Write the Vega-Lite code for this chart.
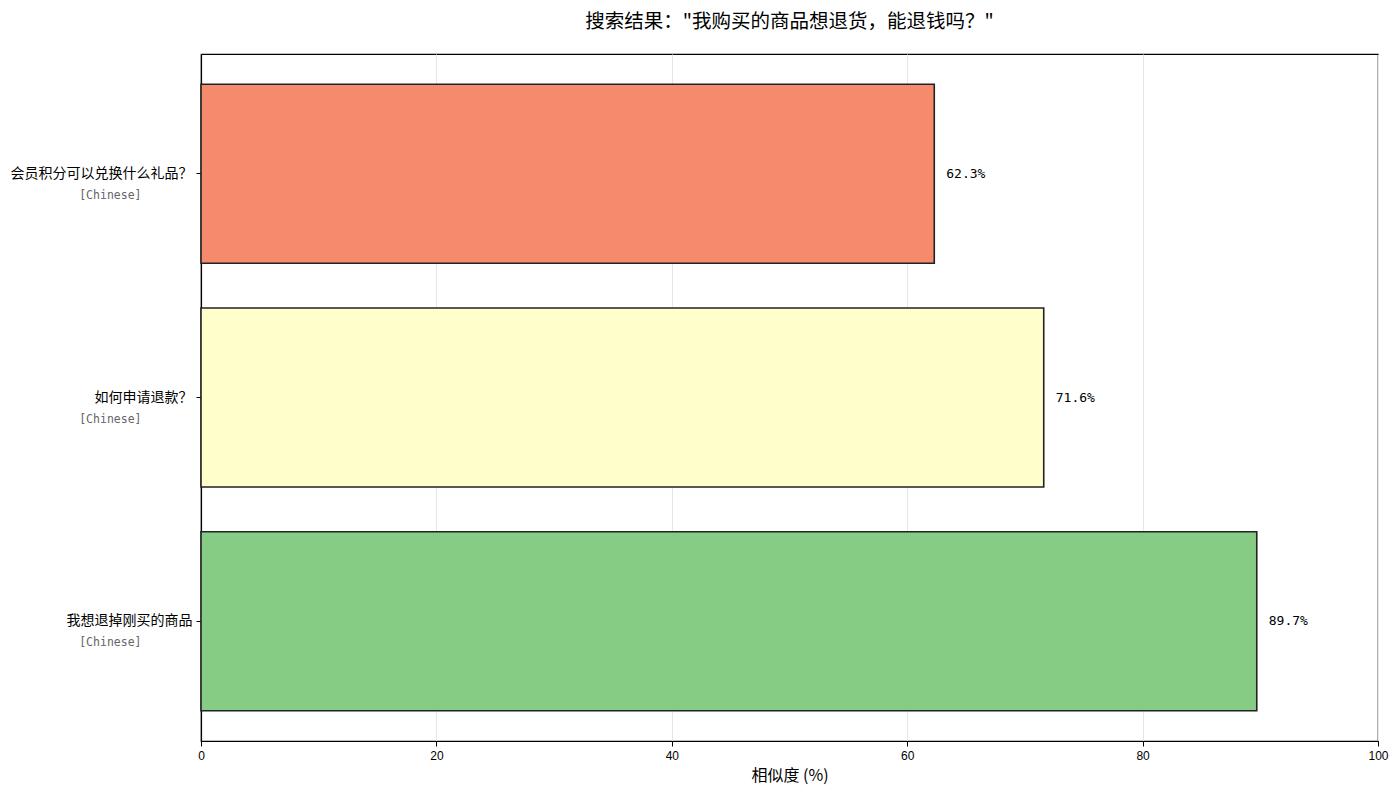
{
  "$schema": "https://vega.github.io/schema/vega-lite/v6.json",
  "autosize": {"type": "none"},
  "padding": {"left": 201, "top": 54, "right": 22, "bottom": 53},
  "width": 1177,
  "height": 687,
  "title": {
    "text": "搜索结果：\"我购买的商品想退货，能退钱吗？\"",
    "font": "Noto Sans CJK SC",
    "fontSize": 19.5,
    "fontWeight": "normal",
    "color": "#000000",
    "anchor": "middle",
    "offset": 22
  },
  "data": {
    "values": [
      {"question": "会员积分可以兑换什么礼品？", "lang": "Chinese", "score": 62.3},
      {"question": "如何申请退款？", "lang": "Chinese", "score": 71.6},
      {"question": "我想退掉刚买的商品", "lang": "Chinese", "score": 89.7}
    ]
  },
  "transform": [
    {"calculate": "format(datum.score, '.1f') + '%'", "as": "label"}
  ],
  "layer": [
    {
      "mark": {"type": "bar", "stroke": "#222222", "strokeWidth": 1.6},
      "encoding": {
        "y": {
          "field": "question",
          "type": "nominal",
          "sort": ["会员积分可以兑换什么礼品？", "如何申请退款？", "我想退掉刚买的商品"],
          "scale": {"paddingInner": 0.2, "paddingOuter": 0.135},
          "axis": {
            "title": null,
            "orient": "left",
            "labelFont": "Noto Sans CJK SC",
            "labelFontSize": 14,
            "labelColor": "#000000",
            "labelPadding": 4,
            "tickSize": 5,
            "tickColor": "#000000",
            "domain": true,
            "domainColor": "#000000",
            "domainWidth": 1.2,
            "labelLimit": 400
          }
        },
        "x": {
          "field": "score",
          "type": "quantitative",
          "scale": {"domain": [0, 100], "nice": false},
          "axis": {
            "title": "相似度 (%)",
            "titleFont": "Noto Sans CJK SC",
            "titleFontSize": 16,
            "titleFontWeight": "normal",
            "titleColor": "#000000",
            "titlePadding": 6,
            "values": [0, 20, 40, 60, 80, 100],
            "labelFont": "Liberation Sans",
            "labelFontSize": 12,
            "labelColor": "#000000",
            "labelPadding": 4,
            "labelFlush": false,
            "tickSize": 5,
            "tickColor": "#000000",
            "domain": true,
            "domainColor": "#000000",
            "domainWidth": 1.2,
            "grid": true,
            "gridColor": "#e6e6e6",
            "gridWidth": 1
          }
        },
        "color": {
          "field": "question",
          "type": "nominal",
          "scale": {
            "domain": ["会员积分可以兑换什么礼品？", "如何申请退款？", "我想退掉刚买的商品"],
            "range": ["#f58b6c", "#ffffcc", "#86cc84"]
          },
          "legend": null
        }
      }
    },
    {
      "mark": {
        "type": "text",
        "align": "left",
        "baseline": "middle",
        "dx": 12,
        "font": "DejaVu Sans Mono",
        "fontSize": 13,
        "color": "#000000"
      },
      "encoding": {
        "y": {
          "field": "question",
          "type": "nominal",
          "sort": ["会员积分可以兑换什么礼品？", "如何申请退款？", "我想退掉刚买的商品"],
          "axis": {
            "title": null,
            "orient": "left",
            "labelExpr": "'[Chinese]'",
            "labelFont": "DejaVu Sans Mono",
            "labelFontSize": 11.5,
            "labelColor": "#666666",
            "labelPadding": 60,
            "labelOffset": 22,
            "ticks": false,
            "domain": false,
            "grid": false
          }
        },
        "x": {"field": "score", "type": "quantitative"},
        "text": {"field": "label"}
      }
    }
  ],
  "resolve": {"axis": {"y": "independent"}},
  "config": {
    "view": {"stroke": "#000000", "strokeWidth": 1.2},
    "axisY": {"grid": false}
  }
}
